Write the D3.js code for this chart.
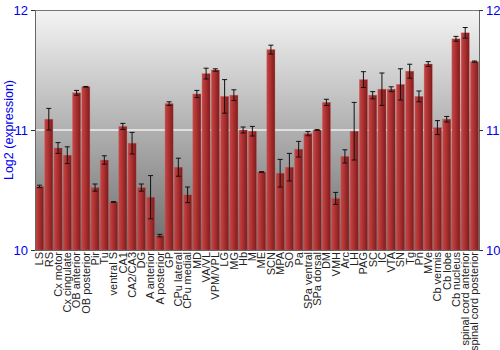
<!DOCTYPE html>
<html><head><meta charset="utf-8">
<script src="https://cdn.jsdelivr.net/npm/d3@7"></script>
<style>body{margin:0;background:#fff}svg{display:block}</style>
</head><body>
<script>
const categories = ["LS","RS","Cx motor","Cx cingulate","OB anterior","OB posterior","Pir","Tu","ventral S","CA1","CA2/CA3","DG","A anterior","A posterior","GP","CPu lateral","CPu medial","MD","VA/VL","VPM/VPL","LG","MG","Hb","M","ME","SCN","MPA","SO","Pa","SPa ventral","SPa dorsal","DM","VMH","Arc","LH","PAG","SC","IC","VTA","SN","Tg","Pn","MVe","Cb vermis","Cb lobe","Cb nucleus","spinal cord anterior","spinal cord posterior"];
const values = [10.53,11.09,10.85,10.79,11.31,11.36,10.52,10.75,10.40,11.03,10.89,10.52,10.44,10.12,11.22,10.69,10.46,11.30,11.47,11.50,11.28,11.29,11.00,10.99,10.65,11.67,10.64,10.69,10.84,10.97,11.00,11.23,10.43,10.78,10.99,11.42,11.29,11.34,11.34,11.38,11.49,11.28,11.55,11.02,11.09,11.76,11.81,11.57];
const errors = [0.01,0.09,0.045,0.07,0.02,0.003,0.03,0.035,0.003,0.025,0.09,0.03,0.18,0.01,0.015,0.075,0.065,0.03,0.045,0.01,0.14,0.045,0.025,0.04,0.003,0.037,0.115,0.115,0.065,0.018,0.003,0.026,0.05,0.055,0.24,0.066,0.03,0.135,0.02,0.13,0.058,0.045,0.02,0.058,0.023,0.02,0.044,0.005];
const yTicks = [10,11,12];

const W=500,H=350, m={l:35,r:21,t:10,b:100};
const svg=d3.select("body").append("svg").attr("width",W).attr("height",H);
const defs=svg.append("defs");
const bg=defs.append("linearGradient").attr("id","bg").attr("x1",0).attr("y1",0).attr("x2",0).attr("y2",1);
bg.append("stop").attr("offset","0%").attr("stop-color","#f4f4f4");
bg.append("stop").attr("offset","100%").attr("stop-color","#6c6c6c");
const bar=defs.append("linearGradient").attr("id","bar").attr("x1",0).attr("y1",0).attr("x2",1).attr("y2",0);
bar.append("stop").attr("offset","0%").attr("stop-color","#c04848");
bar.append("stop").attr("offset","35%").attr("stop-color","#b53434");
bar.append("stop").attr("offset","100%").attr("stop-color","#7c1c1c");

const x=d3.scaleBand().domain(categories).range([m.l,W-m.r]).paddingInner(0.12).paddingOuter(0.05);
const y=d3.scaleLinear().domain([10,12]).range([H-m.b,m.t]);

svg.append("rect").attr("x",m.l).attr("y",m.t).attr("width",W-m.r-m.l).attr("height",H-m.b-m.t).attr("fill","url(#bg)");
svg.append("line").attr("x1",m.l).attr("x2",W-m.r).attr("y1",y(11)).attr("y2",y(11)).attr("stroke","#f0f0f0").attr("stroke-width",1.5);
svg.append("line").attr("x1",m.l).attr("x2",W-m.r).attr("y1",m.t+0.5).attr("y2",m.t+0.5).attr("stroke","#777");

const g=svg.append("g");
g.selectAll("rect.b").data(categories).join("rect").attr("class","b")
 .attr("x",d=>x(d)).attr("width",x.bandwidth())
 .attr("y",(d,i)=>y(values[i])).attr("height",(d,i)=>y(10)-y(values[i]))
 .attr("fill","url(#bar)").attr("stroke","#d06060").attr("stroke-opacity",0.5).attr("stroke-width",0.6);

const eg=svg.append("g").attr("stroke","#111").attr("stroke-width",1);
categories.forEach((c,i)=>{
  const cx=x(c)+x.bandwidth()/2, y1=y(values[i]+errors[i]), y2=y(values[i]-errors[i]);
  eg.append("line").attr("x1",cx).attr("x2",cx).attr("y1",y1).attr("y2",y2);
  eg.append("line").attr("x1",cx-2.5).attr("x2",cx+2.5).attr("y1",y1).attr("y2",y1);
  eg.append("line").attr("x1",cx-2.5).attr("x2",cx+2.5).attr("y1",y2).attr("y2",y2);
});

const axL=svg.append("g").attr("transform",`translate(${m.l},0)`).call(d3.axisLeft(y).tickValues(yTicks).tickSize(4).tickFormat(d3.format("d")));
const axR=svg.append("g").attr("transform",`translate(${W-m.r},0)`).call(d3.axisRight(y).tickValues(yTicks).tickSize(4).tickFormat(d3.format("d")));
[axL,axR].forEach(a=>{
  a.select(".domain").attr("stroke","#666");
  a.selectAll(".tick line").attr("stroke","#333");
  a.selectAll("text").attr("fill","#0000ee").attr("font-family","Liberation Sans, Arial, sans-serif").attr("font-size",13);
});

const axB=svg.append("g").attr("transform",`translate(0,${H-m.b})`).call(d3.axisBottom(x).tickSize(0));
axB.select(".domain").attr("stroke","#666");
axB.selectAll("text").attr("transform","rotate(-90)").attr("text-anchor","end")
 .attr("x",-2).attr("y",0).attr("dy","0.35em").attr("fill","#222")
 .attr("font-family","Liberation Sans, Arial, sans-serif").attr("font-size",11);

svg.append("text").attr("transform",`translate(13,${(m.t+H-m.b)/2}) rotate(-90)`)
 .attr("text-anchor","middle").attr("fill","#0000ee")
 .attr("font-family","Liberation Sans, Arial, sans-serif").attr("font-size",12.5).text("Log2 (expression)");
</script>
</body></html>
